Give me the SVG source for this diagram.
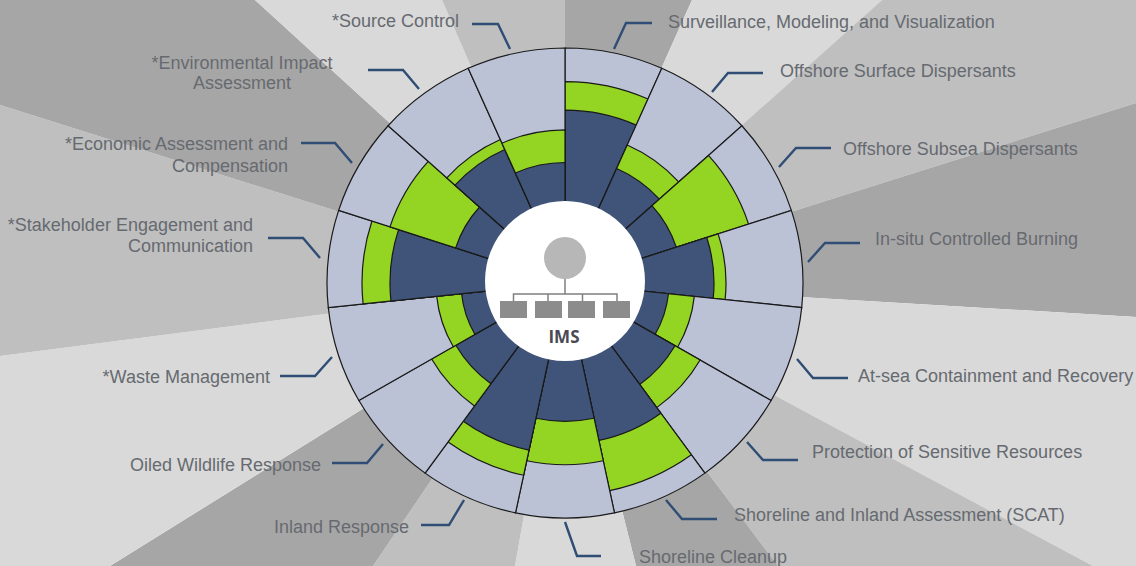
<svg xmlns="http://www.w3.org/2000/svg" width="1136" height="566" viewBox="0 0 1136 566">
<style>
.bl{fill:#d9d9d9}.bm{fill:#bfbfbf}.bd{fill:#a6a6a6}
.o,.g,.n{stroke:#1a1a1a;stroke-width:1.2;stroke-linejoin:miter}
.o{fill:#bcc2d6}.g{fill:#94d423}.n{fill:#3f5478}
.t{font-family:"Liberation Sans",Arial,sans-serif;font-size:18px;fill:#666a70}
.e{text-anchor:end}.m{text-anchor:middle}
#connectors path{fill:none;stroke:#2f4d75;stroke-width:2.4}
.ln{fill:none;stroke:#808080;stroke-width:1.5}.bx{fill:#8c8c8c}
</style>
<defs><path id="outer" class="o" d="M0 0L0-238A238 238 0 0 1 96.8-217.42Z"/></defs>
<g id="background">
<path class="bd" d="M565 283L565 0L692 0Z"/>
<path class="bl" d="M565 283L692 0L882 0Z"/>
<path class="bm" d="M565 283L882 0L1136 0L1136 103Z"/>
<path class="bd" d="M565 283L1136 103L1136 317Z"/>
<path class="bl" d="M565 283L1136 317L1136 566L1093 566Z"/>
<path class="bm" d="M565 283L1093 566L778 566Z"/>
<path class="bd" d="M565 283L778 566L636 566Z"/>
<path class="bl" d="M565 283L636 566L515 566Z"/>
<path class="bm" d="M565 283L515 566L373 566Z"/>
<path class="bd" d="M565 283L373 566L110 566Z"/>
<path class="bl" d="M565 283L110 566L0 566L0 356Z"/>
<path class="bm" d="M565 283L0 356L0 105Z"/>
<path class="bd" d="M565 283L0 105L0 0L255 0Z"/>
<path class="bl" d="M565 283L255 0L442 0Z"/>
<path class="bm" d="M565 283L442 0L565 0Z"/>
</g>
<g id="wheel" transform="translate(565 283) scale(1 .9875)">
<g id="sector-surveillance" transform="rotate(0)"><use href="#outer"/><path class="g" d="M0 0L0-204A204 204 0 0 1 82.97-186.36Z"/><path class="n" d="M0 0L0-175A175 175 0 0 1 71.18-159.87Z"/></g>
<g id="sector-surface" transform="rotate(24)"><use href="#outer"/><path class="g" d="M0 0L0-153A153 153 0 0 1 62.23-139.77Z"/><path class="n" d="M0 0L0-127A127 127 0 0 1 51.66-116.02Z"/></g>
<g id="sector-subsea" transform="rotate(48)"><use href="#outer"/><path class="g" d="M0 0L0-193A193 193 0 0 1 78.5-176.32Z"/><path class="n" d="M0 0L0-117A117 117 0 0 1 47.59-106.89Z"/></g>
<g id="sector-insitu" transform="rotate(72)"><use href="#outer"/><path class="g" d="M0 0L0-161A161 161 0 0 1 65.49-147.08Z"/><path class="n" d="M0 0L0-149A149 149 0 0 1 60.6-136.12Z"/></g>
<g id="sector-atsea" transform="rotate(96)"><use href="#outer"/><path class="g" d="M0 0L0-130A130 130 0 0 1 52.88-118.76Z"/><path class="n" d="M0 0L0-104A104 104 0 0 1 42.3-95.01Z"/></g>
<g id="sector-protection" transform="rotate(120)"><use href="#outer"/><path class="g" d="M0 0L0-156A156 156 0 0 1 63.45-142.51Z"/><path class="n" d="M0 0L0-127A127 127 0 0 1 51.66-116.02Z"/></g>
<g id="sector-scat" transform="rotate(144)"><use href="#outer"/><path class="g" d="M0 0L0-215A215 215 0 0 1 87.45-196.41Z"/><path class="n" d="M0 0L0-163A163 163 0 0 1 66.3-148.91Z"/></g>
<g id="sector-cleanup" transform="rotate(168)"><use href="#outer"/><path class="g" d="M0 0L0-184A184 184 0 0 1 74.84-168.09Z"/><path class="n" d="M0 0L0-140A140 140 0 0 1 56.94-127.9Z"/></g>
<g id="sector-inland" transform="rotate(192)"><use href="#outer"/><path class="g" d="M0 0L0-199A199 199 0 0 1 80.94-181.8Z"/><path class="n" d="M0 0L0-173A173 173 0 0 1 70.37-158.04Z"/></g>
<g id="sector-wildlife" transform="rotate(216)"><use href="#outer"/><path class="g" d="M0 0L0-154A154 154 0 0 1 62.64-140.69Z"/><path class="n" d="M0 0L0-126A126 126 0 0 1 51.25-115.11Z"/></g>
<g id="sector-waste" transform="rotate(240)"><use href="#outer"/><path class="g" d="M0 0L0-129A129 129 0 0 1 52.47-117.85Z"/><path class="n" d="M0 0L0-104A104 104 0 0 1 42.3-95.01Z"/></g>
<g id="sector-stakeholder" transform="rotate(264)"><use href="#outer"/><path class="g" d="M0 0L0-203A203 203 0 0 1 82.57-185.45Z"/><path class="n" d="M0 0L0-175A175 175 0 0 1 71.18-159.87Z"/></g>
<g id="sector-economic" transform="rotate(288)"><use href="#outer"/><path class="g" d="M0 0L0-184A184 184 0 0 1 74.84-168.09Z"/><path class="n" d="M0 0L0-115A115 115 0 0 1 46.78-105.06Z"/></g>
<g id="sector-environmental" transform="rotate(312)"><use href="#outer"/><path class="g" d="M0 0L0-159A159 159 0 0 1 64.67-145.25Z"/><path class="n" d="M0 0L0-148A148 148 0 0 1 60.2-135.21Z"/></g>
<g id="sector-source" transform="rotate(336)"><use href="#outer"/><path class="g" d="M0 0L0-155A155 155 0 0 1 63.04-141.6Z"/><path class="n" d="M0 0L0-122A122 122 0 0 1 49.62-111.45Z"/></g>
</g>
<g id="hub">
<ellipse cx="565" cy="281" rx="80" ry="80" fill="#fff"/>
<circle cx="565" cy="258" r="21" fill="#b7b7b7"/>
<path class="ln" d="M565 279V294M513.5 301V294H617V301M548 294V301M582.5 294V301"/>
<rect class="bx" x="500" y="301" width="27" height="17"/><rect class="bx" x="535" y="301" width="27" height="17"/><rect class="bx" x="568" y="301" width="27" height="17"/><rect class="bx" x="603" y="301" width="27" height="17"/>
<text x="564" y="343" class="m" style="font-family:'Open Sans',sans-serif;font-size:17px;font-weight:700;fill:#4a4a55">IMS</text>
</g>
<g id="connectors">
<path d="M614 49L626 23H652"/><path d="M712 92L728 73H763"/><path d="M779 167L796 148H831"/><path d="M808 262L825 243H860"/>
<path d="M797 359L813 378H848"/><path d="M747 442L763 460H798"/><path d="M666 500L682 519H717"/><path d="M565 522L577 556H601"/>
<path d="M464 500L449 525H421"/><path d="M383 444L367 463H332"/><path d="M332 357L315 376H280"/><path d="M320 258L303 238H268"/>
<path d="M352 163L335 143H301"/><path d="M419 89L403 70H368"/><path d="M510 49L498 24H472"/>
</g>
<g id="labels">
<text class="t" x="668" y="27.5">Surveillance, Modeling, and Visualization</text>
<text class="t" x="780" y="76.5">Offshore Surface Dispersants</text>
<text class="t" x="843" y="154.5">Offshore Subsea Dispersants</text>
<text class="t" x="875" y="244.5">In-situ Controlled Burning</text>
<text class="t" x="858" y="381.5">At-sea Containment and Recovery</text>
<text class="t" x="812" y="457.5">Protection of Sensitive Resources</text>
<text class="t" x="734" y="520.5">Shoreline and Inland Assessment (SCAT)</text>
<text class="t" x="639" y="562.5">Shoreline Cleanup</text>
<text class="t e" x="409" y="532.5">Inland Response</text>
<text class="t e" x="321" y="470.5">Oiled Wildlife Response</text>
<text class="t e" x="270" y="382.5">*Waste Management</text>
<text class="t e" x="253" y="230.5">*Stakeholder Engagement and</text>
<text class="t e" x="253" y="251.5">Communication</text>
<text class="t e" x="288" y="149.5">*Economic Assessment and</text>
<text class="t e" x="288" y="171.5">Compensation</text>
<text class="t m" x="242" y="68.5">*Environmental Impact</text>
<text class="t m" x="242" y="88.5">Assessment</text>
<text class="t e" x="459" y="26.5">*Source Control</text>
</g>
</svg>
